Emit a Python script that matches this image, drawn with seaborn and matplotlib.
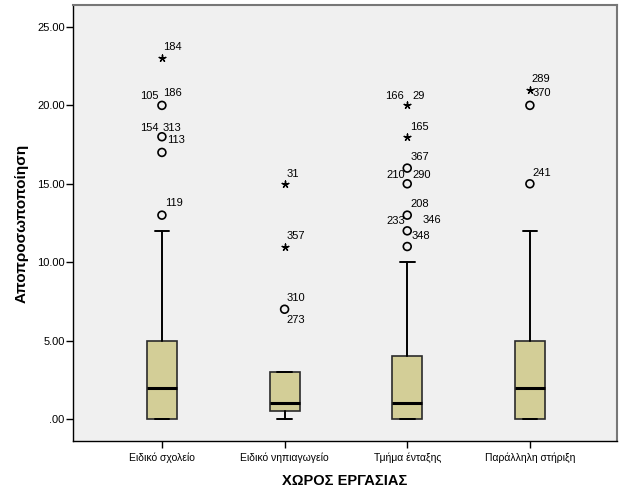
import matplotlib
matplotlib.use("Agg")
import matplotlib.pyplot as plt
import seaborn as sns
import pandas as pd
from matplotlib.ticker import FuncFormatter

# ---- data ----
categories = ["Ειδικό σχολείο", "Ειδικό νηπιαγωγείο", "Τμήμα ένταξης", "Παράλληλη στήριξη"]
q1 = [0.0, 0.5, 0.0, 0.0]
medians = [2.0, 1.0, 1.0, 2.0]
q3 = [5.0, 3.0, 4.0, 5.0]
whisker_low = [0.0, 0.0, 0.0, 0.0]
whisker_high = [12.0, 3.0, 10.0, 12.0]

# outliers: (group index, value, kind)  kind: 'o' mild, '*' extreme
outlier_group = [0, 0, 0, 0, 0, 1, 1, 1, 2, 2, 2, 2, 2, 2, 2, 3, 3, 3]
outlier_value = [13, 17, 18, 20, 23, 7, 11, 15, 11, 12, 13, 15, 16, 18, 20, 15, 20, 21]
outlier_kind = ["o", "o", "o", "o", "*", "o", "*", "*", "o", "o", "o", "o", "o", "*", "*", "o", "o", "*"]

# case labels: (group index, value, label)
label_group = [0, 0, 0, 0, 0, 0, 0, 1, 1, 1, 1,
               2, 2, 2, 2, 2, 2, 2, 2, 2, 2, 3, 3, 3]
label_value = [23, 20, 20, 18, 18, 17, 13, 15, 11, 7, 7,
               20, 20, 18, 16, 15, 15, 13, 12, 12, 11, 21, 20, 15]
label_text = ["184", "105", "186", "154", "313", "113", "119", "31", "357", "310", "273",
              "166", "29", "165", "367", "210", "290", "208", "233", "346", "348", "289", "370", "241"]
# label offsets in pixels (style, not data)
label_dx = [1, -22, 1, -22, 1, 5, 3, 2, 2, 2, 2,
            -22, 5, 3, 3, -21, 5, 3, -21, 15, 4, 2, 3, 3]
label_dy = [11, 9, 12, 9, 9, 12, 12, 10, 11, 11, -11,
            9, 9, 10, 11, 9, 9, 11, 10, 11, 11, 11, 12, 11]

# ---- style ----
sns.set_style("white")
plt.rcParams["font.family"] = ["Liberation Sans", "DejaVu Sans"]
plt.rcParams.update({"text.color": "black", "axes.labelcolor": "black",
                     "xtick.color": "black", "ytick.color": "black"})

fig = plt.figure(figsize=(6.26, 5.01), dpi=100)
ax = fig.add_axes([0.1166, 0.1198, 0.8690, 0.8702])
ax.set_facecolor("#F0F0F0")

stats = []
for i, c in enumerate(categories):
    stats.append(dict(label=c, med=medians[i], q1=q1[i], q3=q3[i],
                      whislo=whisker_low[i], whishi=whisker_high[i], fliers=[]))

ax.bxp(stats, positions=range(len(categories)), widths=0.245, patch_artist=True,
       showfliers=False,
       boxprops=dict(facecolor="#D3CE97", edgecolor="#2b2b2b", linewidth=1.2),
       medianprops=dict(color="black", linewidth=2.2),
       whiskerprops=dict(color="black", linewidth=1.4),
       capprops=dict(color="black", linewidth=1.4), capwidths=0.12)

df_out = pd.DataFrame({"x": outlier_group, "y": outlier_value, "kind": outlier_kind})
mild = df_out[df_out["kind"] == "o"]
ext = df_out[df_out["kind"] == "*"]
sns.scatterplot(data=mild, x="x", y="y", ax=ax, marker="o", s=32,
                facecolor="none", edgecolor="black", linewidth=1.2, legend=False, zorder=5)
sns.scatterplot(data=ext, x="x", y="y", ax=ax, marker=(5, 2, 0), s=24,
                color="black", linewidth=1.0, legend=False, zorder=5)

for g, v, t, dx, dy in zip(label_group, label_value, label_text, label_dx, label_dy):
    ax.annotate(t, xy=(g, v), xytext=(dx, dy), textcoords="offset pixels",
                ha="left", va="center", fontsize=8, color="black")

ax.set_xlim(-0.725, 3.71)
ax.set_ylim(-1.4, 26.4)
ax.set_yticks([0, 5, 10, 15, 20, 25])
ax.yaxis.set_major_formatter(FuncFormatter(lambda v, p: ".00" if v == 0 else f"{v:.2f}"))
ax.set_xticks(range(len(categories)))
ax.set_xticklabels(categories, fontsize=7.5)
ax.tick_params(axis="y", labelsize=8, length=5, width=1, color="black", left=True, pad=1)
ax.tick_params(axis="x", length=5, width=1, color="black", bottom=True, pad=3)

for s in ["left", "bottom"]:
    ax.spines[s].set_color("black")
    ax.spines[s].set_linewidth(1)
for s in ["top", "right"]:
    ax.spines[s].set_color("#777777")
    ax.spines[s].set_linewidth(1.5)

ax.set_xlabel("ΧΩΡΟΣ ΕΡΓΑΣΙΑΣ", fontsize=10.5, fontweight="bold", labelpad=8)
ax.set_ylabel("Αποπροσωποποίηση", fontsize=11, fontweight="bold", labelpad=6)

fig.savefig("out.png", dpi=100, facecolor="white")
